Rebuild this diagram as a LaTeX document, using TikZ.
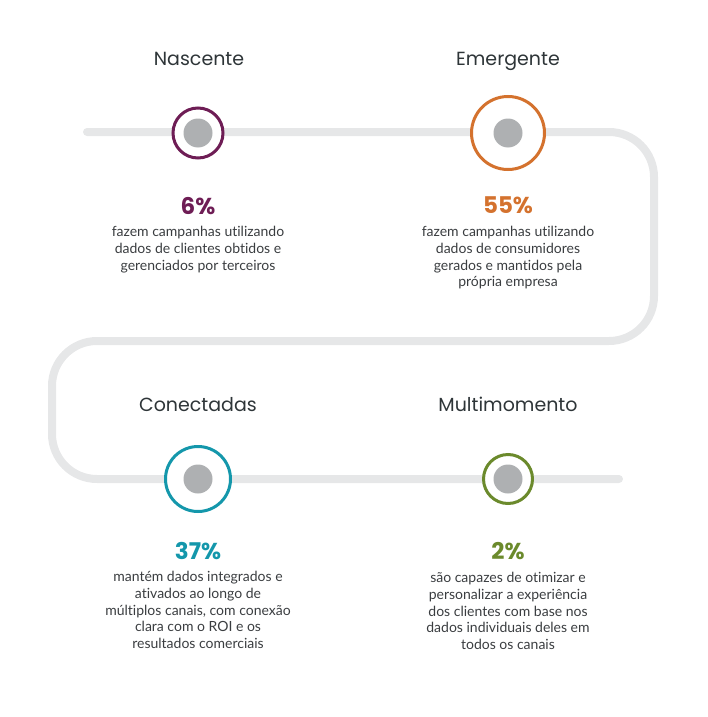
\documentclass[tikz,border=0pt]{standalone}
\usepackage{fontspec}
\setmainfont[Ligatures=NoCommon]{Lato}
\newfontfamily\titlefont{Poppins}
\definecolor{trackgray}{HTML}{E6E7E8}
\definecolor{dotgray}{HTML}{AEB0B2}
\definecolor{titlecol}{HTML}{2E3538}
\definecolor{bodycol}{HTML}{3A3D40}
\definecolor{cpurple}{HTML}{6E1D55}
\definecolor{corange}{HTML}{D4722E}
\definecolor{cteal}{HTML}{1497AB}
\definecolor{cgreen}{HTML}{6B8A2C}
\tikzset{
  track/.style={line width=8pt, color=trackgray, line cap=round, rounded corners=45pt},
  ring/.style={circle, draw=#1, line width=3pt, fill=white, inner sep=0pt},
  dot/.style={circle, fill=dotgray, inner sep=0pt, minimum size=29pt},
  stagetitle/.style={font=\titlefont\fontsize{19}{22}\selectfont, text=titlecol, anchor=base},
  pct/.style={font=\titlefont\bfseries\fontsize{23}{26}\selectfont, text=#1, anchor=base},
  body/.style={font=\fontsize{14}{16.6}\selectfont, text=bodycol, align=center, anchor=north}
}
\begin{document}
\begin{tikzpicture}[x=1pt,y=-1pt]
\useasboundingbox (0,0) rectangle (707,717);
% track path
\coordinate (s) at (87,132);
\coordinate (c1) at (654,132);
\coordinate (c2) at (654,341);
\coordinate (c3) at (52,341);
\coordinate (c4) at (52,479);
\coordinate (e) at (619,479);
\draw[track] (s) -- (c1) -- (c2) -- (c3) -- (c4) -- (e);
% rings
\node[ring=cpurple, minimum size=50pt] (r1) at (198,133) {};
\node[ring=corange, minimum size=73pt] (r2) at (508,133) {};
\node[ring=cteal, minimum size=65pt] (r3) at (198,479) {};
\node[ring=cgreen, minimum size=49pt] (r4) at (508,479) {};
\node[dot] (d1) at (r1) {};
\node[dot] (d2) at (r2) {};
\node[dot] (d3) at (r3) {};
\node[dot] (d4) at (r4) {};
% titles
\node[stagetitle] (t1) at (199,66) {Nascente};
\node[stagetitle] (t2) at (508,66) {Emergente};
\node[stagetitle] (t3) at (198,411) {Conectadas};
\node[stagetitle] (t4) at (508,411) {Multimomento};
% percents
\node[pct=cpurple] (p1) at (198,214) {6\%};
\node[pct=corange] (p2) at (508,213) {55\%};
\node[pct=cteal] (p3) at (198,559) {37\%};
\node[pct=cgreen] (p4) at (508,559) {2\%};
% bodies
\node[body] (b1) at (198,223) {fazem campanhas utilizando\\dados de clientes obtidos e\\gerenciados por terceiros};
\node[body] (b2) at (508,223) {fazem campanhas utilizando\\dados de consumidores\\gerados e mantidos pela\\própria empresa};
\node[body] (b3) at (198,568) {mantém dados integrados e\\ativados ao longo de\\múltiplos canais, com conexão\\clara com o ROI e os\\resultados comerciais};
\node[body] (b4) at (508,569) {são capazes de otimizar e\\personalizar a experiência\\dos clientes com base nos\\dados individuais deles em\\todos os canais};
\end{tikzpicture}
\end{document}
